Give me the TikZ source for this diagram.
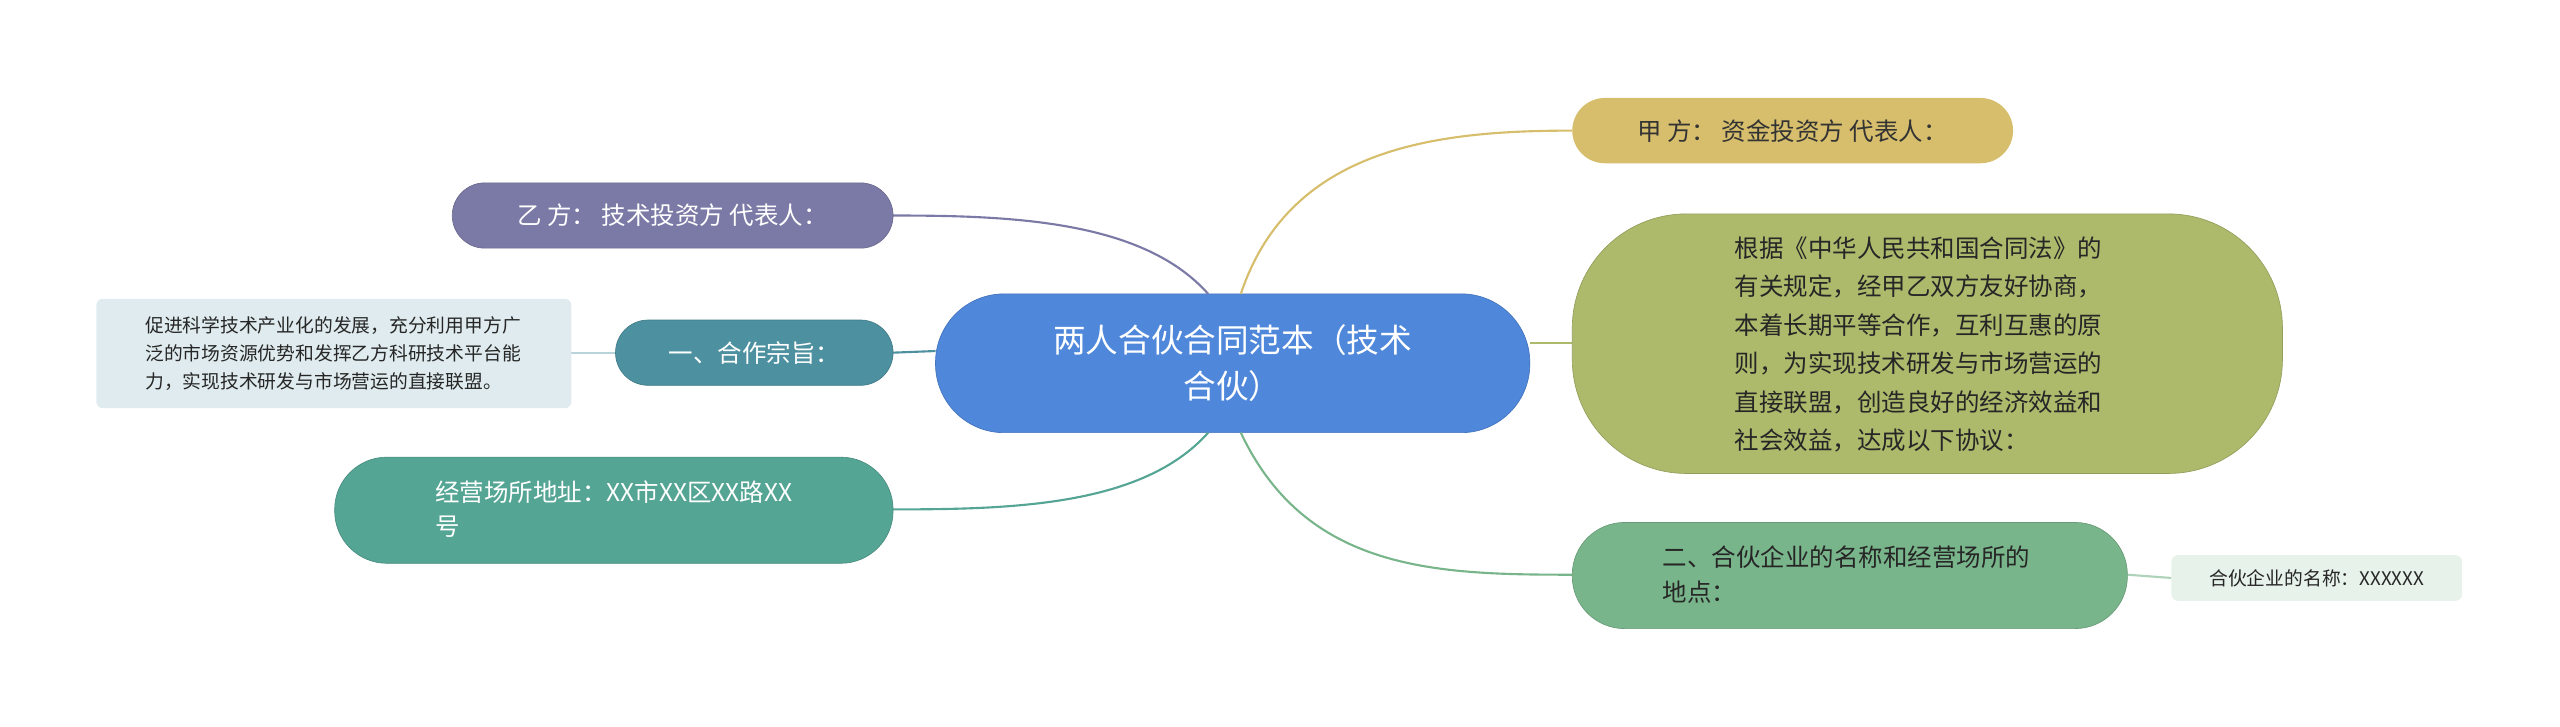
\documentclass[tikz,border=0pt]{standalone}
\usepackage{fontspec}
\setmainfont{Noto Sans CJK SC}
\begin{document}
\begin{tikzpicture}[x=1pt,y=-1pt,
 box/.style={rounded corners=#1,inner sep=0pt,align=left},
 t/.style={font=\fontsize{15}{21}\selectfont},
 s/.style={font=\fontsize{11.5}{17}\selectfont},
 ln/.style={line width=1.3pt}]
\useasboundingbox (0,0) rectangle (1568,445);
\definecolor{cblue}{HTML}{4F87DB}
\definecolor{cgold}{HTML}{D6BE6C}
\definecolor{colive}{HTML}{ADB96B}
\definecolor{cgreen}{HTML}{79B58B}
\definecolor{cpurple}{HTML}{7B7AA6}
\definecolor{cteal}{HTML}{4D91A0}
\definecolor{cteal2}{HTML}{55A595}
% center
\path[fill=cblue, draw=cblue!85!black, rounded corners=42] (573,180) rectangle (937,265);
\node[text=white,align=center,font=\fontsize{20}{28}\selectfont] (c) at (755,222.5) {两人合伙合同范本（技术\\合伙）};
\coordinate (ct) at (760,180); \coordinate (cb) at (760,265);
\coordinate (ctl) at (740,180); \coordinate (cbl) at (740,265);
\coordinate (cr) at (937,210); \coordinate (cl) at (573,215);
% connectors
\draw[ln,cgold] (ct) .. controls (790,90) and (880,80) .. (963,80);
\draw[ln,colive] (cr) -- (963,210);
\draw[ln,cgreen] (cb) .. controls (800,350) and (880,352) .. (963,352);
\draw[ln,cpurple] (ctl) .. controls (700,135) and (620,132) .. (547,132);
\draw[ln,cteal] (cl) -- (547,216);
\draw[ln,cteal2] (cbl) .. controls (700,310) and (620,312) .. (547,312);
\draw[ln,cgreen!60] (1303,352) -- (1330,354);
\draw[ln,cteal!40] (377,216) -- (350,216);
% right
\path[fill=cgold,rounded corners=20] (963,60) rectangle (1233,100);
\node[t,text=black!80] (a) at (1098,80) {甲 方：\ 资金投资方 代表人：};
\path[fill=colive,draw=colive!85!black,rounded corners=70] (963,131) rectangle (1398,290);
\node[text=black!85,align=left,font=\fontsize{15}{23.5}\selectfont] (g) at (1175,211) {根据《中华人民共和国合同法》的\\有关规定，经甲乙双方友好协商，\\本着长期平等合作，互利互惠的原\\则，为实现技术研发与市场营运的\\直接联盟，创造良好的经济效益和\\社会效益，达成以下协议：};
\path[fill=cgreen,draw=cgreen!85!black,rounded corners=32] (963,320) rectangle (1303,385);
\node[t,text=black!85,align=left] (e) at (1131,352) {二、合伙企业的名称和经营场所的\\地点：};
\path[fill=cgreen!18,rounded corners=4] (1330,340) rectangle (1508,368);
\node[s,text=black!85] (e1) at (1419,354) {合伙企业的名称：XXXXXX};
% left
\path[fill=cpurple,draw=cpurple!85!black,rounded corners=20] (277,112) rectangle (547,152);
\node[t,text=white] (b) at (412,132) {乙 方：\ 技术投资方 代表人：};
\path[fill=cteal,draw=cteal!85!black,rounded corners=20] (377,196) rectangle (547,236);
\node[t,text=white] (d) at (462,216) {一、合作宗旨：};
\path[fill=cteal!18,rounded corners=4] (59,183) rectangle (350,250);
\node[s,text=black!85,align=left] (d1) at (204,216.5) {促进科学技术产业化的发展，充分利用甲方广\\泛的市场资源优势和发挥乙方科研技术平台能\\力，实现技术研发与市场营运的直接联盟。};
\path[fill=cteal2,draw=cteal2!85!black,rounded corners=32] (205,280) rectangle (547,345);
\node[t,text=white,align=left] (f) at (376,312) {经营场所地址：XX市XX区XX路XX\\号};
\end{tikzpicture}
\end{document}
